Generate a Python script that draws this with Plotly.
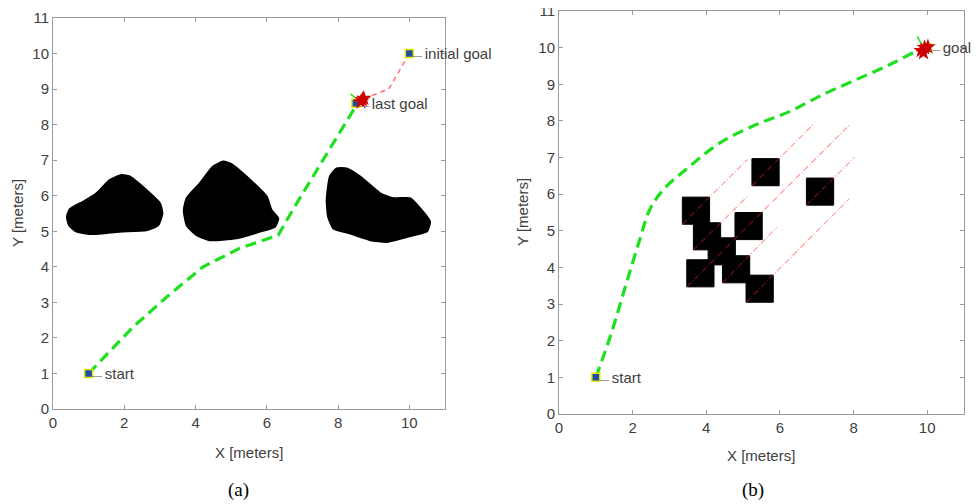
import plotly.graph_objects as go

# ---------------- panel (a) data ----------------
blob1_x = [0.39, 0.47, 0.84, 1.22, 1.59, 1.92, 2.15, 2.62, 3.00, 3.07, 2.95, 2.62, 1.87, 1.12, 0.66, 0.45]
blob1_y = [5.41, 5.62, 5.83, 6.07, 6.44, 6.58, 6.54, 6.16, 5.79, 5.50, 5.17, 5.03, 4.99, 4.92, 4.99, 5.17]
blob2_x = [3.67, 3.75, 4.12, 4.49, 4.78, 5.01, 5.43, 6.00, 6.13, 6.32, 6.23, 5.81, 5.15, 4.40, 4.03, 3.75]
blob2_y = [5.60, 5.93, 6.35, 6.82, 6.96, 6.89, 6.54, 5.97, 5.60, 5.36, 5.13, 4.99, 4.80, 4.75, 4.89, 5.17]
blob3_x = [7.68, 7.77, 7.96, 8.24, 8.62, 9.18, 9.55, 10.02, 10.30, 10.58, 10.49, 10.11, 9.37, 8.90, 8.33, 7.87, 7.72]
blob3_y = [5.88, 6.54, 6.77, 6.77, 6.54, 6.07, 5.93, 5.93, 5.65, 5.27, 4.99, 4.89, 4.70, 4.75, 4.94, 5.08, 5.41]

path_a_x = [1.00, 2.25, 3.19, 4.21, 5.24, 6.32, 6.56, 6.84, 8.43, 8.52]
path_a_y = [1.00, 2.31, 3.15, 4.00, 4.52, 4.89, 5.31, 5.79, 8.41, 8.60]
replan_x = [10.00, 9.42, 8.80]
replan_y = [10.00, 9.00, 8.76]
marks_a_x = [1.0, 10.0, 8.5]
marks_a_y = [1.0, 10.0, 8.6]
labels_a = ["start", "initial goal", "last goal"]
robot_a_x = [8.64, 8.72, 8.68]
robot_a_y = [8.64, 8.74, 8.70]
heading_a_x = [8.35, 8.57]
heading_a_y = [8.86, 8.70]
start_heading_x = [1.03, 1.17]
start_heading_y = [1.03, 1.15]

# ---------------- panel (b) data ----------------
sq_x = [5.61, 7.09, 3.72, 5.15, 4.02, 4.42, 3.84, 4.81, 5.45]
sq_y = [6.60, 6.07, 5.55, 5.13, 4.85, 4.44, 3.84, 3.95, 3.42]
sq_size = 0.74

traj_x0 = [3.35, 5.24, 3.47, 6.72, 3.65, 4.44, 5.08]
traj_y0 = [5.18, 6.23, 3.47, 5.70, 4.48, 3.58, 3.05]
traj_x1 = [5.11, 6.90, 7.90, 8.02, 5.14, 5.92, 7.88]
traj_y1 = [6.94, 7.90, 7.90, 7.00, 5.96, 5.10, 5.87]

path_b_x = [1.00, 1.42, 1.83, 2.19, 2.46, 2.83, 3.55, 4.37, 5.36, 6.27, 7.17, 8.08, 8.99, 9.80, 9.90]
path_b_y = [1.00, 2.20, 3.57, 4.75, 5.57, 6.12, 6.76, 7.40, 7.90, 8.26, 8.72, 9.13, 9.54, 9.95, 9.98]
marks_b_x = [1.0, 10.0]
marks_b_y = [1.0, 10.0]
labels_b = ["start", "goal"]
robot_b_x = [9.84, 9.93, 10.02, 9.90]
robot_b_y = [9.92, 10.00, 10.02, 9.86]
heading_b_x = [9.73, 9.85]
heading_b_y = [10.31, 10.08]

x_ticks = [0, 2, 4, 6, 8, 10]
y_ticks = list(range(0, 12))

GREEN = "#1ee01e"
TXT = "#404040"
AX = "#9a9a9a"

# page body has an 8px default margin: work in window pixels, then shift
OFF = 8
W, H = 979 - OFF, 504 - OFF


def px(x):
    return (x - OFF) / W


def py(y):
    return 1 - (y - OFF) / H


fig = go.Figure()

# ---- panel (a) ----
for bx, by in [(blob1_x, blob1_y), (blob2_x, blob2_y), (blob3_x, blob3_y)]:
    fig.add_trace(go.Scatter(x=bx + [bx[0]], y=by + [by[0]], mode="lines", fill="toself",
                             fillcolor="black", line=dict(color="black", width=2, shape="spline", smoothing=0.5),
                             xaxis="x", yaxis="y", hoverinfo="skip"))
fig.add_trace(go.Scatter(x=replan_x, y=replan_y, mode="lines",
                         line=dict(color="rgba(255,90,90,0.85)", width=1.5, dash="5px,4px"),
                         xaxis="x", yaxis="y"))
fig.add_trace(go.Scatter(x=path_a_x, y=path_a_y, mode="lines",
                         line=dict(color=GREEN, width=3.2, dash="11px,6px"),
                         xaxis="x", yaxis="y"))
for hx, hy in [(heading_a_x, heading_a_y), (start_heading_x, start_heading_y)]:
    fig.add_trace(go.Scatter(x=hx, y=hy, mode="lines",
                             line=dict(color=GREEN, width=1.5), xaxis="x", yaxis="y"))
fig.add_trace(go.Scatter(x=marks_a_x, y=marks_a_y, mode="markers",
                         marker=dict(symbol="square", size=8, color="#1d4fa8",
                                     line=dict(color="#e6e600", width=1.5)),
                         xaxis="x", yaxis="y"))
fig.add_trace(go.Scatter(x=robot_a_x, y=robot_a_y, mode="markers",
                         marker=dict(symbol="star", size=12, color="#cc0000"),
                         xaxis="x", yaxis="y"))

# ---- panel (b) ----
h = sq_size / 2
for cx, cy in zip(sq_x, sq_y):
    fig.add_trace(go.Scatter(x=[cx - h, cx + h, cx + h, cx - h, cx - h],
                             y=[cy - h, cy - h, cy + h, cy + h, cy - h],
                             mode="lines", fill="toself", fillcolor="black",
                             line=dict(color="black", width=1), xaxis="x2", yaxis="y2"))
for x0, y0, x1, y1 in zip(traj_x0, traj_y0, traj_x1, traj_y1):
    fig.add_trace(go.Scatter(x=[x0, x1], y=[y0, y1], mode="lines",
                             line=dict(color="rgba(255,40,40,0.45)", width=1.2, dash="6px,2px,1px,2px"),
                             xaxis="x2", yaxis="y2"))
fig.add_trace(go.Scatter(x=path_b_x, y=path_b_y, mode="lines", line_shape="spline",
                         line=dict(color=GREEN, width=3.2, dash="11px,6px"),
                         xaxis="x2", yaxis="y2"))
fig.add_trace(go.Scatter(x=heading_b_x, y=heading_b_y, mode="lines",
                         line=dict(color=GREEN, width=1.5), xaxis="x2", yaxis="y2"))
fig.add_trace(go.Scatter(x=marks_b_x, y=marks_b_y, mode="markers",
                         marker=dict(symbol="square", size=8, color="#1d4fa8",
                                     line=dict(color="#e6e600", width=1.5)),
                         xaxis="x2", yaxis="y2"))
fig.add_trace(go.Scatter(x=robot_b_x, y=robot_b_y, mode="markers",
                         marker=dict(symbol="star", size=12, color="#cc0000"),
                         xaxis="x2", yaxis="y2"))

common = dict(range=[0, 11], showgrid=False, zeroline=False, showline=True, linecolor=AX,
              linewidth=1, mirror="ticks", ticks="inside", ticklen=4, tickcolor=AX,
              tickfont=dict(family="Liberation Sans, Arial", size=15, color=TXT),
              fixedrange=True, automargin=False, ticklabeloverflow="allow")

annotations = []
for xs, ys, labs, xr, yr in [(marks_a_x, marks_a_y, labels_a, "x", "y"),
                              (marks_b_x, marks_b_y, labels_b, "x2", "y2")]:
    for x, y, t in zip(xs, ys, labs):
        annotations.append(dict(x=x, y=y, xref=xr, yref=yr, xanchor="left", yanchor="middle",
                                xshift=1, showarrow=False,
                                text="<span style='color:#8a8a8a;font-size:10px'>— </span>" + t,
                                font=dict(family="Liberation Sans, Arial", size=15, color=TXT)))

title_specs = [("X [meters]", 249, 452, 0), ("Y [meters]", 17, 213, -90),
               ("X [meters]", 761, 455, 0), ("Y [meters]", 522, 212, -90)]
for t, tx, ty, ang in title_specs:
    annotations.append(dict(text=t, x=px(tx), y=py(ty), xref="paper", yref="paper",
                            showarrow=False, textangle=ang, xanchor="center", yanchor="middle",
                            font=dict(family="Liberation Sans, Arial", size=15, color=TXT)))

for t, tx in [("(a)", 238), ("(b)", 753)]:
    annotations.append(dict(text=t, x=px(tx), y=py(490), xref="paper", yref="paper",
                            showarrow=False, xanchor="center", yanchor="middle",
                            font=dict(family="Liberation Serif, Times New Roman", size=19, color="black")))

fig.update_layout(
    width=W, height=H, margin=dict(l=0, r=0, t=0, b=0, autoexpand=False),
    paper_bgcolor="white", plot_bgcolor="white", showlegend=False,
    xaxis=dict(domain=[px(53), px(445)], anchor="y", tickvals=x_ticks, **common),
    yaxis=dict(domain=[py(409), py(18)], anchor="x", tickvals=y_ticks, **common),
    xaxis2=dict(domain=[px(559), px(964)], anchor="y2", tickvals=x_ticks, **common),
    yaxis2=dict(domain=[py(414), py(11)], anchor="x2", tickvals=y_ticks, **common),
    annotations=annotations,
)

fig.write_html("out.html")
